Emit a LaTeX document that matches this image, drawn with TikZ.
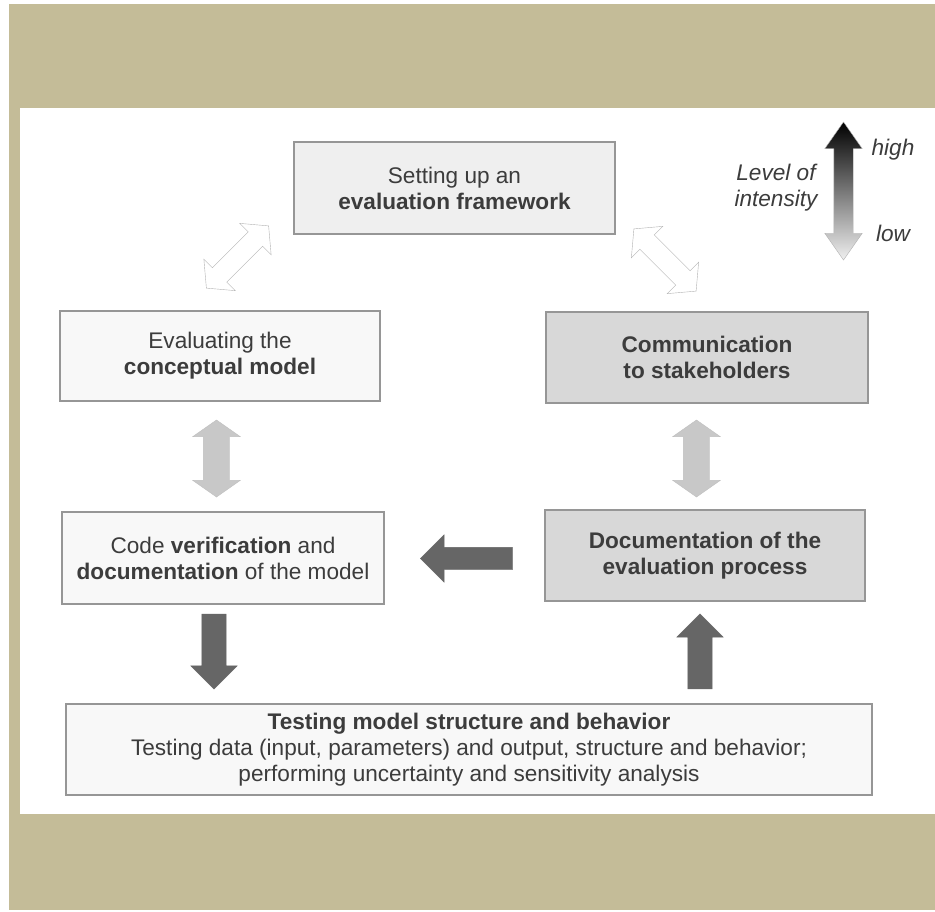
\documentclass[tikz,border=0pt]{standalone}
\usepackage{fontspec}
\setmainfont{Liberation Sans}
\usepackage{tikz}
\usetikzlibrary{shapes.arrows}

\definecolor{tan}{RGB}{196,188,152}
\definecolor{boxline}{RGB}{150,150,150}
\definecolor{txt}{RGB}{60,60,60}
\definecolor{lightfill}{RGB}{248,248,248}
\definecolor{topfill}{RGB}{239,239,239}
\definecolor{darkfill}{RGB}{216,216,216}
\definecolor{midarrow}{RGB}{200,200,200}
\definecolor{darkarrow}{RGB}{102,102,102}

\tikzset{
  box/.style = {draw = boxline, line width = 1.2pt, text = txt, align = center,
                inner sep = 0pt, font = \fontsize{22.6}{26}\selectfont},
  twoway/.style = {double arrow, inner sep = 13pt, minimum height = 77,
                   minimum width = 47, double arrow head extend = 10.5,
                   double arrow tip angle = 110},
  oneway/.style = {single arrow, inner sep = 12pt, fill = darkarrow, draw = darkarrow,
                   minimum width = 46, single arrow head extend = 11},
  legend/.style = {text = txt, font = \fontsize{22.6}{26}\selectfont\itshape, align = center}
}

\begin{document}
\begin{tikzpicture}
    [x = 1pt, y = -1pt]
    % backdrop
    \fill[white] (0,0) rectangle (935,911);
    \fill[tan] (9,4) rectangle (935,910);
    \fill[white] (20,108) rectangle (935,814);

    % boxes
    \node[box, fill = topfill, minimum width = 321, minimum height = 92]
      (frame) at (454.5,188) {Setting up an\\\textbf{evaluation framework}};
    \node[box, fill = lightfill, minimum width = 320, minimum height = 90]
      (concept) at (220,356) {Evaluating the\\\textbf{conceptual model}};
    \node[box, fill = darkfill, minimum width = 322, minimum height = 91]
      (comm) at (707,357.5) {\textbf{Communication}\\\textbf{to stakeholders}};
    \node[box, fill = lightfill, minimum width = 322, minimum height = 92]
      (code) at (223,558) {Code \textbf{verification} and\\\textbf{documentation} of the model};
    \node[box, fill = darkfill, minimum width = 320, minimum height = 91]
      (docu) at (705,555.5) {\textbf{Documentation of the}\\\textbf{evaluation process}};
    \node[box, fill = lightfill, minimum width = 806, minimum height = 91]
      (test) at (469,749.5) {\textbf{Testing model structure and behavior}\\
        Testing data (input, parameters) and output, structure and behavior;\\
        performing uncertainty and sensitivity analysis};

    % arrows between the boxes
    \node[twoway, fill = white, draw = gray!60, inner sep = 10pt, minimum height = 88,
          minimum width = 44, double arrow head extend = 12, double arrow tip angle = 100,
          rotate = 45]
      (framecon) at (237.5,257) {};
    \node[twoway, fill = white, draw = gray!60, inner sep = 10pt, minimum height = 88,
          minimum width = 44, double arrow head extend = 12, double arrow tip angle = 100,
          rotate = -45]
      (framecom) at (665,260) {};
    \node[twoway, fill = midarrow, draw = gray!50, shape border rotate = 90]
      (concode) at (216.5,458.5) {};
    \node[twoway, fill = midarrow, draw = gray!50, shape border rotate = 90]
      (comdocu) at (696.5,458.5) {};
    \node[oneway, inner sep = 11pt, minimum height = 92, minimum width = 47,
          single arrow head extend = 12.5, shape border rotate = 180]
      (docucode) at (472,558.5) {};
    \node[oneway, minimum height = 75, shape border rotate = 270]
      (codetest) at (214,645.5) {};
    \node[oneway, minimum height = 75, shape border rotate = 90]
      (testdocu) at (700,657.5) {};

    % legend
    \node[double arrow, inner sep = 9.5pt, minimum height = 138, minimum width = 37,
          double arrow head extend = 9, double arrow tip angle = 70,
          shape border rotate = 90, draw = gray!60,
          top color = black, bottom color = gray!12]
      (scale) at (843.5,191) {};
    \node[legend] (level) at (776,188) {Level of\\intensity};
    \node[legend] (high) at (893,150) {high};
    \node[legend] (low) at (893,233) {low};
  \end{tikzpicture}
\end{document}
